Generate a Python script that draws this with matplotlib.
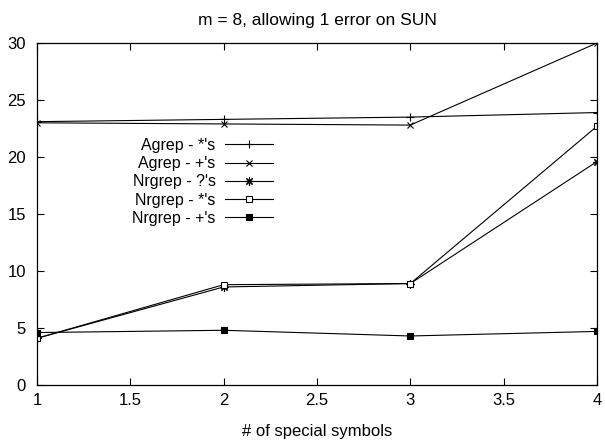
import matplotlib
matplotlib.use("Agg")
import matplotlib.pyplot as plt

# Daten
symbols = [1, 2, 3, 4]
agrep_star = [23.1, 23.3, 23.5, 23.9]
agrep_plus = [23.0, 22.9, 22.8, 30.0]
nrgrep_quest = [4.1, 8.6, 8.9, 19.6]
nrgrep_star = [4.1, 8.8, 8.9, 22.7]
nrgrep_plus = [4.6, 4.8, 4.3, 4.7]

plt.rcParams["font.family"] = ["Liberation Sans", "DejaVu Sans"]
fs = 12

fig = plt.figure(figsize=(6.05, 4.44), dpi=100)
ax = fig.add_axes([37 / 605, 1 - 385 / 444, 560 / 605, 342 / 444])

lw = 0.8
ax.plot(symbols, agrep_star, color="black", lw=lw, marker="+", ms=6, mew=0.8,
        label="Agrep - *'s")
ax.plot(symbols, agrep_plus, color="black", lw=lw, marker="x", ms=5, mew=0.8,
        label="Agrep - +'s")
ax.plot(symbols, nrgrep_quest, color="black", lw=lw, marker=(8, 2, 0), ms=6, mew=0.8,
        label="Nrgrep - ?'s")
ax.plot(symbols, nrgrep_star, color="black", lw=lw, marker="s", ms=5, mew=0.8,
        mfc="white", label="Nrgrep - *'s")
ax.plot(symbols, nrgrep_plus, color="black", lw=lw, marker="s", ms=5, mew=0.8,
        mfc="black", label="Nrgrep - +'s")

ax.set_xlim(1, 4)
ax.set_ylim(0, 30)
ax.set_xticks([1, 1.5, 2, 2.5, 3, 3.5, 4])
ax.set_xticklabels(["1", "1.5", "2", "2.5", "3", "3.5", "4"])
ax.set_yticks(range(0, 31, 5))
ax.tick_params(direction="in", length=5, width=0.8, top=True, right=True,
               labelsize=fs)
ax.tick_params(axis="x", pad=6)
ax.tick_params(axis="y", pad=8)
for s in ax.spines.values():
    s.set_linewidth(0.9)

ax.set_title("m = 8, allowing 1 error on SUN", fontsize=12.5, pad=13)
ax.set_xlabel("# of special symbols", fontsize=fs, labelpad=11)

ax.legend(loc="upper right", bbox_to_anchor=(273 / 605, 1 - 138 / 444),
          bbox_transform=fig.transFigure, frameon=False, markerfirst=False,
          handlelength=3.0, handletextpad=0.6, labelspacing=0.2,
          borderpad=0, borderaxespad=0, fontsize=11.5)

fig.savefig("out.png", dpi=100)
